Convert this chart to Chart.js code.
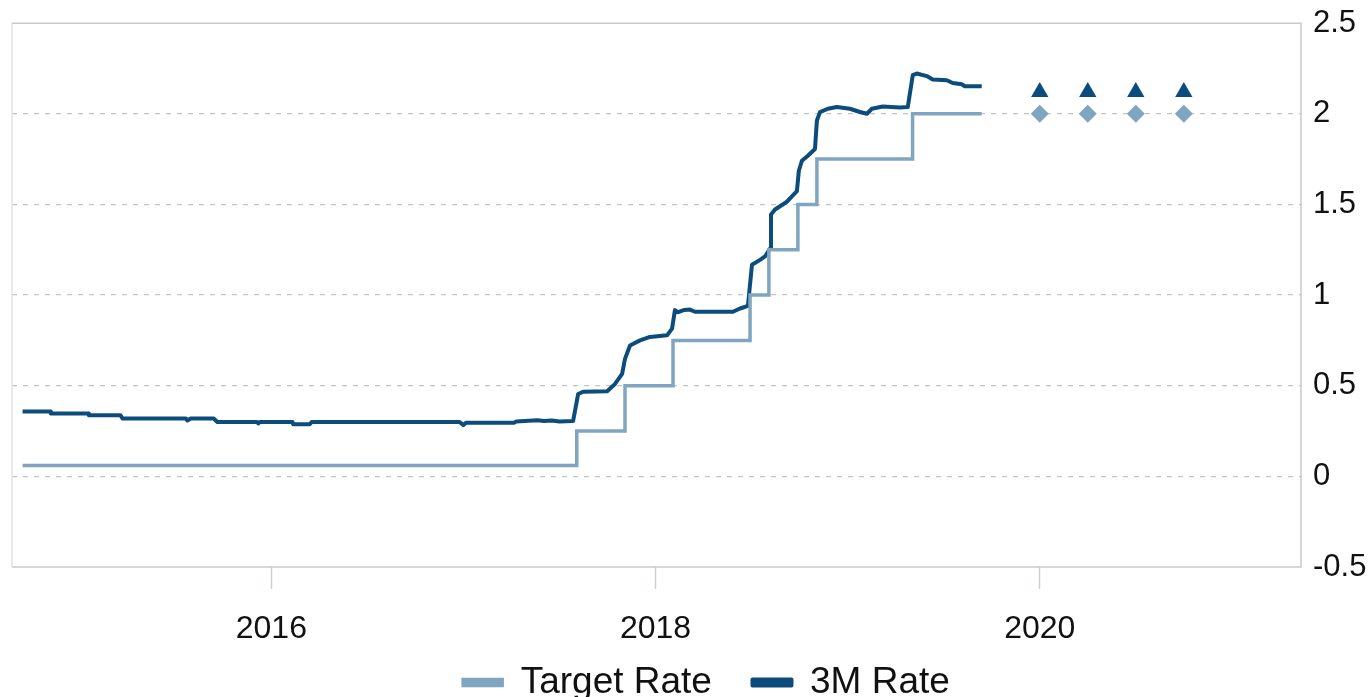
<!DOCTYPE html>
<html>
<head>
<meta charset="utf-8">
<script src="https://cdn.jsdelivr.net/npm/chart.js@4.4.1/dist/chart.umd.min.js"></script>
<style>
  html, body { margin: 0; padding: 0; background: #fff; overflow: hidden; }
  #wrap { width: 1401px; height: 711px; position: relative; }
</style>
</head>
<body>
<div id="wrap"><canvas id="rateChart"></canvas></div>
<script>
// --- data (decimal years) ---
const targetYears  = [2014.705, 2017.590, 2017.841, 2018.091, 2018.492, 2018.590, 2018.741, 2018.840, 2019.338, 2019.698];
const targetValues = [0.06,     0.25,     0.50,     0.75,     1.00,     1.25,     1.50,     1.75,     2.00,     2.00];

const rateYears = [
  2014.705, 2014.850, 2014.852, 2015.048, 2015.050, 2015.215, 2015.225, 2015.555, 2015.563, 2015.580,
  2015.700, 2015.719, 2015.925, 2015.932, 2015.940, 2016.110, 2016.114, 2016.200, 2016.210, 2016.980,
  2016.999, 2017.015, 2017.265, 2017.275, 2017.384, 2017.420, 2017.460, 2017.500, 2017.571, 2017.597,
  2017.623, 2017.748, 2017.789, 2017.826, 2017.841, 2017.867, 2017.919, 2017.971, 2018.060, 2018.086,
  2018.101, 2018.115, 2018.150, 2018.179, 2018.205, 2018.403, 2018.440, 2018.481, 2018.502, 2018.544,
  2018.570, 2018.598, 2018.601, 2018.622, 2018.684, 2018.736, 2018.746, 2018.762, 2018.793, 2018.830,
  2018.840, 2018.856, 2018.897, 2018.944, 2019.012, 2019.064, 2019.100, 2019.126, 2019.183, 2019.272,
  2019.313, 2019.339, 2019.360, 2019.412, 2019.443, 2019.516, 2019.547, 2019.594, 2019.610, 2019.698
];
const rateValues = [
  0.358, 0.358, 0.347, 0.347, 0.337, 0.337, 0.319, 0.319, 0.308, 0.319,
  0.319, 0.300, 0.300, 0.292, 0.300, 0.300, 0.287, 0.287, 0.300, 0.300,
  0.283, 0.296, 0.296, 0.303, 0.310, 0.305, 0.308, 0.303, 0.306, 0.454,
  0.467, 0.470, 0.510, 0.565, 0.648, 0.722, 0.750, 0.769, 0.778, 0.815,
  0.917, 0.905, 0.918, 0.920, 0.908, 0.908, 0.926, 0.941, 1.167, 1.194,
  1.213, 1.260, 1.444, 1.472, 1.515, 1.574, 1.686, 1.741, 1.769, 1.806,
  1.963, 2.009, 2.028, 2.037, 2.028, 2.010, 2.000, 2.028, 2.040, 2.035,
  2.037, 2.213, 2.222, 2.208, 2.189, 2.185, 2.170, 2.163, 2.152, 2.152
];

// quarterly forecasts
const forecastYears  = [2020.0, 2020.25, 2020.5, 2020.75];
const forecastRate   = [2.12, 2.12, 2.12, 2.12];
const forecastTarget = [2.0, 2.0, 2.0, 2.0];

const xTicks = [2016, 2018, 2020];
const yTicks = [-0.5, 0, 0.5, 1, 1.5, 2, 2.5];

const lightBlue = '#7fa5c0';
const darkBlue = '#0c4c7d';

const toPoints = (xs, ys) => xs.map((x, i) => ({ x: x, y: ys[i] }));

Chart.defaults.font.family = "'Liberation Sans', Arial, sans-serif";
Chart.defaults.color = '#111';

// plot frame around the chart area
const framePlugin = {
  id: 'frame',
  afterDraw(chart) {
    const { ctx, chartArea: a } = chart;
    ctx.save();
    ctx.lineWidth = 1.5;
    ctx.strokeStyle = '#e2e2e2';
    ctx.beginPath(); ctx.moveTo(a.left, a.top); ctx.lineTo(a.left, a.bottom); ctx.stroke();
    ctx.strokeStyle = '#c9c9c9';
    ctx.beginPath();
    ctx.moveTo(a.left, a.top); ctx.lineTo(a.right, a.top);
    ctx.lineTo(a.right, a.bottom); ctx.lineTo(a.left, a.bottom);
    ctx.stroke();
    ctx.restore();
  }
};

// only the two lines go in the legend; a bit of room after the first item
const legendLabels = chart =>
  Chart.defaults.plugins.legend.labels.generateLabels(chart)
    .filter(l => l.datasetIndex < 2)
    .map(l => (l.datasetIndex === 0 ? { ...l, text: l.text + '\u00a0\u00a0' } : l));

const ctx = document.getElementById('rateChart').getContext('2d');
new Chart(ctx, {
  type: 'line',
  data: {
    datasets: [
      {
        label: 'Target Rate',
        data: toPoints(targetYears, targetValues),
        borderColor: lightBlue,
        backgroundColor: lightBlue,
        borderWidth: 3.5,
        stepped: 'before',
        pointRadius: 0,
        fill: false
      },
      {
        label: '3M Rate',
        data: toPoints(rateYears, rateValues),
        borderColor: darkBlue,
        backgroundColor: darkBlue,
        borderWidth: 4,
        borderJoinStyle: 'round',
        tension: 0,
        pointRadius: 0,
        fill: false
      },
      {
        label: 'fc3m',
        data: toPoints(forecastYears, forecastRate),
        showLine: false,
        pointStyle: 'triangle',
        pointRadius: 10,
        pointBackgroundColor: darkBlue,
        pointBorderWidth: 0
      },
      {
        label: 'fcTarget',
        data: toPoints(forecastYears, forecastTarget),
        showLine: false,
        pointStyle: 'rectRot',
        pointRadius: 9,
        pointBackgroundColor: lightBlue,
        pointBorderWidth: 0
      }
    ]
  },
  options: {
    responsive: true,
    maintainAspectRatio: false,
    animation: false,
    layout: { padding: { top: 0, left: 12, right: 0, bottom: 0 } },
    plugins: {
      tooltip: { enabled: false },
      legend: {
        position: 'bottom',
        labels: {
          generateLabels: legendLabels,
          boxWidth: 39,
          boxHeight: 6,
          padding: 20,
          color: '#111',
          font: { size: 37, lineHeight: 1.0 }
        }
      }
    },
    scales: {
      x: {
        type: 'linear',
        min: 2014.65,
        max: 2021.36,
        afterBuildTicks: scale => { scale.ticks = xTicks.map(v => ({ value: v })); },
        afterFit: scale => { scale.height = 77; },
        ticks: {
          callback: v => String(v),
          font: { size: 32 },
          color: '#111',
          padding: 21,
          maxRotation: 0
        },
        grid: { drawOnChartArea: false, drawTicks: true, tickLength: 22, tickColor: '#c8d1da', tickWidth: 1.5 },
        border: { display: false }
      },
      y: {
        position: 'right',
        min: -0.5,
        max: 2.5,
        afterBuildTicks: scale => { scale.ticks = yTicks.map(v => ({ value: v })); },
        afterFit: scale => { scale.width = 100; },
        ticks: {
          callback: v => String(v),
          font: { size: 31, lineHeight: 0.72 },
          color: '#111',
          padding: 12
        },
        grid: {
          drawTicks: false,
          lineWidth: 1.2,
          color: c => (c.tick && (c.tick.value === -0.5 || c.tick.value === 2.5)) ? 'rgba(0,0,0,0)' : '#c4c4c4'
        },
        border: { display: false, dash: [5, 6] }
      }
    }
  },
  plugins: [framePlugin]
});
</script>
</body>
</html>
